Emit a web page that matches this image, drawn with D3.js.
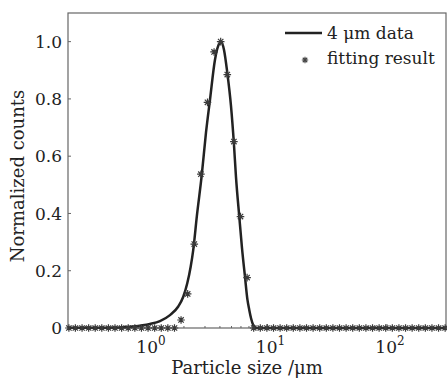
<!DOCTYPE html>
<html>
<head>
<meta charset="utf-8">
<script src="https://cdn.jsdelivr.net/npm/d3@7"></script>
<style>
  body { margin: 0; background: #fff; }
  text { font-family: "DejaVu Serif", serif; fill: #222; }
</style>
</head>
<body>
<div id="chart"></div>
<script>

// Fitting result: bin centres (µm) and normalized counts
var sizes = [0.218, 0.247, 0.281, 0.319, 0.362, 0.411, 0.467, 0.530, 0.602, 0.684,
             0.777, 0.882, 1.002, 1.138, 1.292, 1.467, 1.667, 1.892, 2.149, 2.441,
             2.772, 3.148, 3.574, 4.059, 4.610, 5.236, 5.945, 6.752, 7.667, 8.708,
             9.888, 11.23, 12.75, 14.48, 16.44, 18.67, 21.21, 24.08, 27.35, 31.06,
             35.27, 40.05, 45.49, 51.66, 58.66, 66.63, 75.66, 85.92, 97.57, 110.8,
             125.8, 142.9, 162.3, 184.3, 209.3, 237.7, 269.9, 306.5];
var fitted = [0, 0, 0, 0, 0, 0, 0, 0, 0, 0,
              0, 0, 0, 0, 0, 0, 0, 0.028, 0.119, 0.293,
              0.537, 0.788, 0.964, 1.0, 0.885, 0.651, 0.389, 0.176, 0, 0,
              0, 0, 0, 0, 0, 0, 0, 0, 0, 0,
              0, 0, 0, 0, 0, 0, 0, 0, 0, 0,
              0, 0, 0, 0, 0, 0, 0, 0];

// 4 µm data curve
var curveSizes = [0.214, 0.397, 0.583, 0.753, 1.039, 1.260, 1.528, 1.793, 1.974, 2.132,
                  2.277, 2.393, 2.570, 2.814, 3.058, 3.303, 3.637, 3.876, 4.082, 4.325,
                  4.609, 4.950, 5.244, 5.450, 5.808, 6.118, 6.482, 6.802, 7.042, 7.276,
                  7.606, 8.012, 20, 100, 311];
var curveCounts = [0.001, 0.001, 0.002, 0.005, 0.014, 0.024, 0.045, 0.075, 0.109, 0.156,
                   0.214, 0.273, 0.394, 0.531, 0.682, 0.797, 0.937, 0.986, 1.0, 0.972,
                   0.892, 0.776, 0.64, 0.528, 0.389, 0.28, 0.179, 0.098, 0.063, 0.035,
                   0.010, 0, 0, 0, 0];

var yTicks = [0, 0.2, 0.4, 0.6, 0.8, 1.0],
    yTickLabels = ["0", "0.2", "0.4", "0.6", "0.8", "1.0"];
var xDecades = [1, 10, 100],
    xExponents = ["0", "1", "2"];
var legendLabels = ["4 \u03bcm data", "fitting result"];


// --> CREATE SVG DRAWING AREA
var width = 447,
    height = 378;

var svg = d3.select("#chart").append("svg")
    .attr("width", width)
    .attr("height", height);

var plotLeft = 68, plotRight = 446, plotTop = 13, plotBottom = 328;

var x = d3.scaleLog()
    .domain([0.2143, 311.6])
    .range([plotLeft, plotRight]);

var y = d3.scaleLinear()
    .domain([0, 1.1])
    .range([plotBottom, plotTop]);


// Frame
svg.append("rect")
    .attr("x", plotLeft)
    .attr("y", plotTop)
    .attr("width", plotRight - plotLeft)
    .attr("height", plotBottom - plotTop)
    .attr("fill", "none")
    .attr("stroke", "#666")
    .attr("stroke-width", 1.2);


// Y ticks (inward)
svg.selectAll(".ytick")
    .data(yTicks)
    .enter().append("line")
    .attr("class", "ytick")
    .attr("x1", plotLeft)
    .attr("x2", plotLeft + 3)
    .attr("y1", function(d) { return y(d); })
    .attr("y2", function(d) { return y(d); })
    .attr("stroke", "#666");

svg.selectAll(".ylab")
    .data(yTicks)
    .enter().append("text")
    .attr("class", "ylab")
    .attr("x", plotLeft - 6)
    .attr("y", function(d) { return y(d); })
    .attr("dy", "0.36em")
    .attr("text-anchor", "end")
    .style("font-size", "17px")
    .text(function(d, i) { return yTickLabels[i]; });


// X ticks: decades and minor ticks
var minor = [];
xDecades.concat([0.1]).forEach(function(dec) {
    for (var k = 2; k <= 9; k++) {
        var v = dec * k;
        if (v > x.domain()[0] && v < x.domain()[1]) minor.push(v);
    }
});

svg.selectAll(".xminor")
    .data(minor)
    .enter().append("line")
    .attr("x1", function(d) { return x(d); })
    .attr("x2", function(d) { return x(d); })
    .attr("y1", plotBottom)
    .attr("y2", plotBottom - 2)
    .attr("stroke", "#666");

svg.selectAll(".xmajor")
    .data(xDecades)
    .enter().append("line")
    .attr("x1", function(d) { return x(d); })
    .attr("x2", function(d) { return x(d); })
    .attr("y1", plotBottom)
    .attr("y2", plotBottom - 4)
    .attr("stroke", "#666");

var xlab = svg.selectAll(".xlab")
    .data(xDecades)
    .enter().append("text")
    .attr("class", "xlab")
    .attr("x", function(d) { return x(d) + 3; })
    .attr("y", 352.5)
    .attr("text-anchor", "middle")
    .style("font-size", "17px");
xlab.append("tspan").text("10");
xlab.append("tspan")
    .attr("dy", -8)
    .style("font-size", "12px")
    .text(function(d, i) { return xExponents[i]; });


// Axis titles
svg.append("text")
    .attr("x", 247)
    .attr("y", 373.5)
    .attr("text-anchor", "middle")
    .style("font-size", "18px")
    .text("Particle size /\u03bcm");

svg.append("text")
    .attr("transform", "translate(24,176) rotate(-90)")
    .attr("text-anchor", "middle")
    .style("font-size", "18px")
    .text("Normalized counts");


// Data line
var curveData = curveSizes.map(function(s, i) { return { s: s, v: curveCounts[i] }; });

var line = d3.line()
    .x(function(d) { return x(d.s); })
    .y(function(d) { return y(d.v); })
    .curve(d3.curveMonotoneX);

svg.append("path")
    .datum(curveData)
    .attr("d", line)
    .attr("fill", "none")
    .attr("stroke", "#222")
    .attr("stroke-width", 2.5);


// Star markers
function star(r) {
    var a = r * Math.SQRT1_2;
    return "M" + (-r) + ",0L" + r + ",0" +
           "M0," + (-r) + "L0," + r +
           "M" + (-a) + "," + (-a) + "L" + a + "," + a +
           "M" + (-a) + "," + a + "L" + a + "," + (-a);
}

svg.selectAll(".pt")
    .data(sizes)
    .enter().append("path")
    .attr("class", "pt")
    .attr("transform", function(d, i) { return "translate(" + x(d) + "," + y(fitted[i]) + ")"; })
    .attr("d", star(3.8))
    .attr("stroke", "#3a3a3a")
    .attr("stroke-width", 1.2)
    .attr("fill", "none");


// Legend
svg.append("line")
    .attr("x1", 285).attr("x2", 322)
    .attr("y1", 33).attr("y2", 33)
    .attr("stroke", "#222")
    .attr("stroke-width", 2.5);
svg.append("path")
    .attr("transform", "translate(305,60)")
    .attr("d", star(3.2))
    .attr("stroke", "#444")
    .attr("stroke-width", 1.1);

svg.selectAll(".leg")
    .data(legendLabels)
    .enter().append("text")
    .attr("class", "leg")
    .attr("x", 327)
    .attr("y", function(d, i) { return 39 + i * 25; })
    .style("font-size", "17px")
    .text(function(d) { return d; });

</script>
</body>
</html>
